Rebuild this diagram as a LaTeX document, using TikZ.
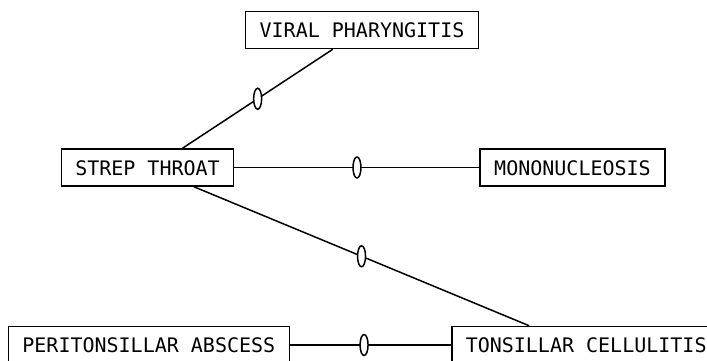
\documentclass[tikz,border=0pt]{standalone}
\usepackage{fontspec}
\setmonofont{DejaVu Sans Mono}
\usetikzlibrary{shapes.geometric}

\begin{document}
\begin{tikzpicture}[x=1pt,y=-1pt,-,line width=1.5pt]
  \tikzstyle{every node}=[font=\ttfamily\fontsize{20}{24}\selectfont]
  \tikzstyle{dx}=[draw,rectangle,minimum height=37pt,inner xsep=14pt,inner ysep=0pt,text height=15pt,text depth=0pt]
  \tikzstyle{link}=[draw,ellipse,fill=white,minimum width=8pt,minimum height=21pt,inner sep=0pt]

  \useasboundingbox (0,0) rectangle (707,360);

  \node[dx] 					(V) at (362,30)    {VIRAL PHARYNGITIS};
  \node[dx] 					(S) at (147.5,167.5) {STREP THROAT};
  \node[dx] 					(M) at (572.5,167.5) {MONONUCLEOSIS};
  \node[dx,anchor=east] 			(P) at (290,345)   {PERITONSILLAR ABSCESS};
  \node[dx,anchor=west] 			(T) at (451,345)   {TONSILLAR CELLULITIS};

  \path (V) edge 		node[link,pos=0.5] {} 	([xshift=35pt]S.north)
        (S) edge 		node[link,pos=0.5] {} 	(M)
        (S) edge 		node[link,pos=0.5] {} 	([xshift=-57pt]T.north)
        (P) edge 		node[link,pos=0.46] {} 	(T);
\end{tikzpicture}
\end{document}
